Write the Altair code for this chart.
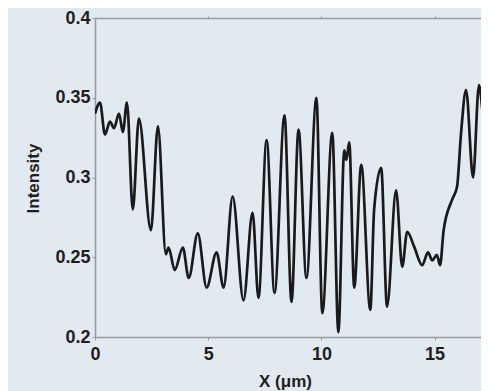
import altair as alt
import pandas as pd

# Profile: position (µm) and intensity
x_um = [0.0, 0.22, 0.44, 0.66, 0.84, 1.06, 1.23, 1.41, 1.67, 1.94, 2.47, 2.78,
        3.13, 3.25, 3.52, 3.88, 4.14, 4.54, 4.93, 5.37, 5.68, 6.08, 6.56, 6.96,
        7.22, 7.58, 7.93, 8.37, 8.68, 8.99, 9.34, 9.78, 10.04, 10.48, 10.75,
        11.01, 11.1, 11.23, 11.45, 11.76, 12.16, 12.33, 12.64, 12.9, 13.3,
        13.57, 13.79, 14.1, 14.45, 14.71, 14.9, 15.1, 15.24, 15.4, 15.77,
        15.99, 16.17, 16.39, 16.7, 16.96, 17.22, 17.4]
intensity = [0.340, 0.347, 0.327, 0.335, 0.331, 0.340, 0.3285, 0.347, 0.280,
             0.337, 0.267, 0.332, 0.252, 0.256, 0.242, 0.256, 0.237, 0.265,
             0.231, 0.253, 0.231, 0.288, 0.223, 0.278, 0.2245, 0.3235, 0.2276,
             0.339, 0.222, 0.330, 0.237, 0.350, 0.215, 0.328, 0.203, 0.317,
             0.311, 0.322, 0.231, 0.308, 0.217, 0.280, 0.306, 0.219, 0.292,
             0.244, 0.266, 0.2565, 0.245, 0.253, 0.248, 0.2515, 0.245, 0.267,
             0.286, 0.294, 0.328, 0.355, 0.300, 0.358, 0.332, 0.351]

x_ticks = [0, 5, 10, 15]
y_ticks = [0.2, 0.25, 0.3, 0.35, 0.4]

df = pd.DataFrame({"x": x_um, "y": intensity})

FONT = "Liberation Sans"
AX = "#9a9a9a"
TXT = "#1e1e1e"

xscale = alt.Scale(domain=[0, 17.05], nice=False, zero=False)
yscale = alt.Scale(domain=[0.2, 0.4], nice=False, zero=False)

base = alt.Chart(df)

line = base.mark_line(
    color="#1a1a1a", strokeWidth=2.7, interpolate="monotone", clip=True
).encode(
    x=alt.X("x:Q", scale=xscale,
            axis=alt.Axis(values=x_ticks, format="d", grid=False,
                          domainColor=AX, domainWidth=1.5,
                          tickColor=AX, tickSize=3,
                          labelFont=FONT, labelFontSize=18, labelFontWeight="bold",
                          labelColor=TXT, labelPadding=5, labelFlush=False,
                          title="X (μm)", titleFont=FONT, titleFontSize=17,
                          titleFontWeight="bold", titleColor=TXT,
                          titleX=190, titleY=49, titleBaseline="alphabetic")),
    y=alt.Y("y:Q", scale=yscale,
            axis=alt.Axis(values=y_ticks, format=".2~f", grid=False,
                          domainColor=AX, domainWidth=1.5,
                          tickColor=AX, tickSize=3,
                          labelFont=FONT, labelFontSize=18, labelFontWeight="bold",
                          labelColor=TXT, labelPadding=2, labelFlush=False,
                          title="Intensity", titleFont=FONT, titleFontSize=17,
                          titleFontWeight="bold", titleColor=TXT,
                          titleAngle=-90, titleX=-62, titleY=160,
                          titleAlign="center", titleBaseline="middle")),
)

top = base.mark_line(opacity=0).encode(
    x=alt.X("x:Q", scale=xscale,
            axis=alt.Axis(orient="top", values=[5, 10, 15], labels=False,
                          grid=False, title=None, domainColor=AX,
                          domainWidth=1.5, tickColor=AX, tickSize=2)),
    y=alt.Y("y:Q", scale=yscale),
)

chart = alt.layer(line, top).resolve_axis(x="independent").properties(
    width=386,
    height=319,
    autosize=alt.AutoSizeParams(type="none"),
    padding={"left": 87, "top": 10, "right": 0, "bottom": 54},
    background="#e1e9f1",
).configure_view(stroke=None)

chart.save("out.html", embed_options={"renderer": "svg", "actions": False})
